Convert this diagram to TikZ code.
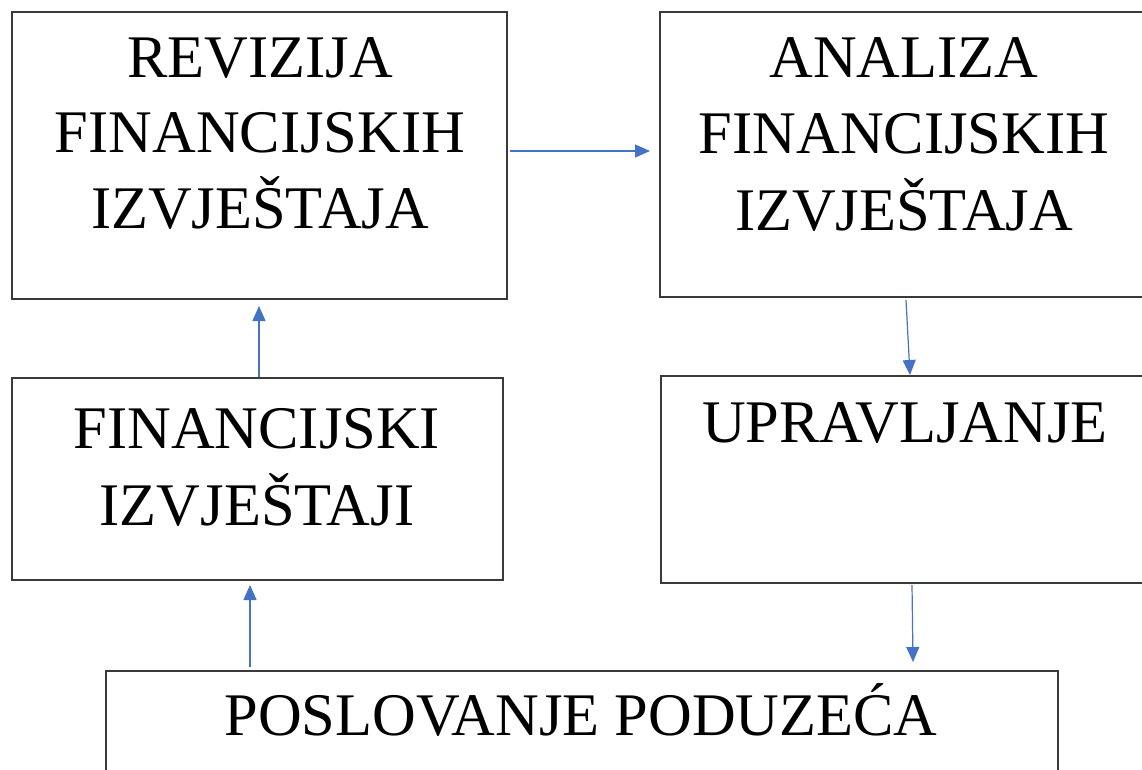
\documentclass[tikz,border=0pt]{standalone}
\usepackage{fontspec}
\setmainfont{Liberation Serif}
\usetikzlibrary{arrows.meta}
\definecolor{arrblue}{HTML}{4472C4}
\definecolor{boxgray}{HTML}{3A3A3A}
\begin{document}
\begin{tikzpicture}[x=1pt,y=-1pt,
  box/.style={draw=boxgray,line width=1.4pt,rectangle,inner sep=0pt,outer sep=0pt},
  lbl/.style={anchor=base,inner sep=0pt,font=\fontsize{60.5}{60.5}\selectfont},
  arr/.style={draw=arrblue,line width=1.2pt,-{Triangle[length=15pt,width=13pt]}}]
\useasboundingbox (0,0) rectangle (1142,769);
\clip (0,0) rectangle (1142,769);
\node[box,minimum width=495pt,minimum height=287pt] (b1) at (259.5,155.5) {};
\node[box,minimum width=490pt,minimum height=285pt] (b2) at (905,154.5) {};
\node[box,minimum width=491pt,minimum height=202pt] (b3) at (257.5,479) {};
\node[box,minimum width=489pt,minimum height=207pt] (b4) at (905.5,479.5) {};
\node[box,minimum width=952pt,minimum height=119pt] (b5) at (582,730.5) {};
\node[lbl] (t1a) at (260,77) {REVIZIJA};
\node[lbl] (t1b) at (260,152) {FINANCIJSKIH};
\node[lbl] (t1c) at (260,228) {IZVJEŠTAJA};
\node[lbl] (t2a) at (904,77) {ANALIZA};
\node[lbl] (t2b) at (904,153) {FINANCIJSKIH};
\node[lbl] (t2c) at (904,230) {IZVJEŠTAJA};
\node[lbl] (t3a) at (257,448) {FINANCIJSKI};
\node[lbl] (t3b) at (257,525) {IZVJEŠTAJI};
\node[lbl] (t4) at (905,442) {UPRAVLJANJE};
\node[lbl] (t5) at (581,735) {POSLOVANJE PODUZEĆA};
\draw[arr] ([shift={(3,-4.5)}]b1.east) -- ([shift={(-10,-3.5)}]b2.west);
\draw[arr] ([shift={(1,3)}]b2.south) -- ([shift={(4.5,-1)}]b4.north);
\draw[arr] ([shift={(6.5,2)}]b4.south) -- ([shift={(331,-9)}]b5.north);
\draw[arr] ([shift={(-332,-4)}]b5.north) -- ([shift={(-7.5,5)}]b3.south);
\draw[arr] ([shift={(1.5,-1)}]b3.north) -- ([shift={(-0.5,7)}]b1.south);
\end{tikzpicture}
\end{document}
